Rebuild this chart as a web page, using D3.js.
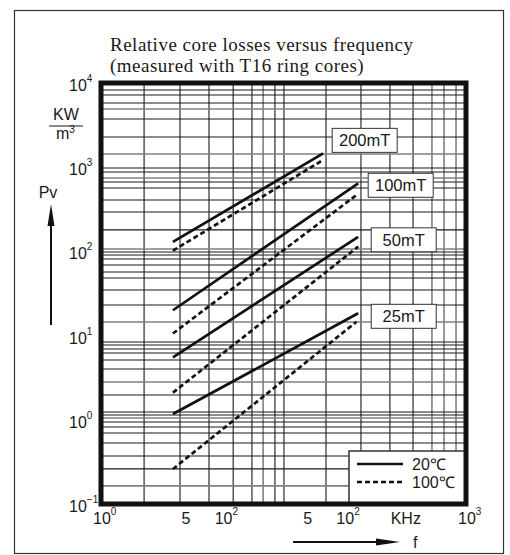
<!DOCTYPE html>
<html>
<head>
<meta charset="utf-8">
<script src="https://cdn.jsdelivr.net/npm/d3@7"></script>
<style>
  body { margin: 0; background: #fff; }
  text { font-family: "Liberation Sans", Arial, sans-serif; fill: #1a1a1a; }
</style>
</head>
<body>
<script>
// series (kHz, kW/m3)
var flux = ["200mT", "100mT", "50mT", "25mT"];
var fStart = [3.9, 3.9, 3.9, 3.9];
var fEnd20 = [67, 130, 130, 130];
var fEnd100 = [67, 126, 130, 126];
var pv20Start = [130, 20, 5.5, 1.17];
var pv20End = [1460, 644, 149, 18.4];
var pv100Start = [102, 10.6, 2.1, 0.26];
var pv100End = [1220, 467, 114, 14.6];

var xTickVals = [1, 5, 10, 50, 100, 1000];
var xTickBase = ["10", "5", "10", "5", "10", "10"];
var xTickExp = ["0", "", "2", "", "2", "3"];
var yTickVals = [0.1, 1, 10, 100, 1000, 10000];
var yTickExp = ["\u22121", "0", "1", "2", "3", "4"];
var legendText = ["20\u2103", "100\u2103"];

// grid lines as printed on the sheet (they are not evenly log-spaced)
var gridF = [2.26, 4.46, 7.72, 12.2, 17.4, 21.5, 26.9, 31.9, 70.7, 137, 237, 367, 525, 660, 828];
var gridFGrey = [21.5, 525, 660, 828];
var gridPv = [8260, 7200, 5780, 4910, 3740, 2280, 1435, 978, 877, 745, 667, 566, 408, 294, 180,
  107, 98.4, 90.6, 81.2, 68.9, 56.9, 48.3, 34.8, 23.1, 14.5, 8.39, 7.73, 6.93, 6.21, 5.13, 4.01,
  2.81, 1.97, 1.24, 1.14, 1.05, 0.942, 0.821, 0.697, 0.53, 0.372, 0.261, 0.164];
var gridPvGrey = [4910, 1435, 745, 107, 14.5, 2.81, 1.05, 0.164];

var W = 510, H = 555;
var pL = 101, pR = 466, pT = 83, pB = 504;

var svg = d3.select("body").append("svg")
  .attr("width", W).attr("height", H);

var x = d3.scaleLog().domain([1, 1000]).range([pL, pR]);
var y = d3.scaleLog().domain([0.1, 10000]).range([pB, pT]);

// outer frame
svg.append("rect")
  .attr("x", 14.5).attr("y", 10.5).attr("width", 489).attr("height", 543)
  .attr("fill", "none").attr("stroke", "#333").attr("stroke-width", 1.2);

// title
var title = svg.append("text")
  .style("font-family", "'Liberation Serif', 'Times New Roman', serif")
  .style("font-size", "19px")
  .style("letter-spacing", "0.5px");
title.append("tspan").attr("x", 110).attr("y", 51).text("Relative core losses versus frequency");
title.append("tspan").attr("x", 110).attr("y", 72).text("(measured with T16 ring cores)");

// grid
svg.append("g").selectAll("line").data(gridF).enter().append("line")
  .attr("x1", function(d) { return x(d); }).attr("x2", function(d) { return x(d); })
  .attr("y1", pT).attr("y2", pB)
  .attr("stroke", function(d) { return gridFGrey.indexOf(d) >= 0 ? "#808080" : "#1a1a1a"; })
  .attr("stroke-width", function(d) { return gridFGrey.indexOf(d) >= 0 ? 1.6 : 1.1; });

svg.append("g").selectAll("line").data(gridPv).enter().append("line")
  .attr("y1", function(d) { return y(d); }).attr("y2", function(d) { return y(d); })
  .attr("x1", pL).attr("x2", pR)
  .attr("stroke", function(d) { return gridPvGrey.indexOf(d) >= 0 ? "#808080" : "#1a1a1a"; })
  .attr("stroke-width", function(d) { return gridPvGrey.indexOf(d) >= 0 ? 1.6 : 1.1; });

// curves
var idx = d3.range(flux.length);
var line = d3.line().x(function(d) { return x(d[0]); }).y(function(d) { return y(d[1]); });

svg.append("g").selectAll("path.hot").data(idx).enter().append("path")
  .attr("d", function(i) { return line([[fStart[i], pv100Start[i]], [fEnd100[i], pv100End[i]]]); })
  .attr("fill", "none").attr("stroke", "#111").attr("stroke-width", 2.7)
  .attr("stroke-dasharray", "5,3");

svg.append("g").selectAll("path.cold").data(idx).enter().append("path")
  .attr("d", function(i) { return line([[fStart[i], pv20Start[i]], [fEnd20[i], pv20End[i]]]); })
  .attr("fill", "none").attr("stroke", "#111").attr("stroke-width", 2.7);

// flux labels
var labelDx = [9, 10, 13, 13], labelDy = [-13, 2, 3, 3];
var lab = svg.append("g").selectAll("g").data(idx).enter().append("g")
  .attr("transform", function(i) {
    return "translate(" + (x(fEnd20[i]) + labelDx[i]) + "," + (y(pv20End[i]) + labelDy[i]) + ")";
  });
lab.append("rect").attr("x", 0).attr("y", -12).attr("width", 65).attr("height", 24)
  .attr("fill", "#fff").attr("stroke", "#333").attr("stroke-width", 1);
lab.append("text").attr("x", 32.5).attr("y", 6).attr("text-anchor", "middle")
  .style("font-size", "16.5px").text(function(i) { return flux[i]; });

// legend
var lg = svg.append("g");
lg.append("rect").attr("x", 349).attr("y", 451).attr("width", pR - 349).attr("height", pB - 451)
  .attr("fill", "#fff").attr("stroke", "#333").attr("stroke-width", 1.5);
lg.selectAll("line").data([0, 1]).enter().append("line")
  .attr("x1", 357).attr("x2", 403)
  .attr("y1", function(d) { return 464 + d * 18; }).attr("y2", function(d) { return 464 + d * 18; })
  .attr("stroke", "#111").attr("stroke-width", 2.7)
  .attr("stroke-dasharray", function(d) { return d ? "5,3" : null; });
lg.selectAll("text").data([0, 1]).enter().append("text")
  .attr("x", 412).attr("y", function(d) { return 470 + d * 18; })
  .style("font-size", "16px").text(function(d) { return legendText[d]; });

// plot border
svg.append("rect")
  .attr("x", pL).attr("y", pT).attr("width", pR - pL).attr("height", pB - pT)
  .attr("fill", "none").attr("stroke", "#111").attr("stroke-width", 5);

// y tick labels
var yt = svg.append("g").selectAll("text").data(yTickVals).enter().append("text")
  .attr("x", 69).attr("y", function(d) { return y(d) + 8; })
  .style("font-size", "16px");
yt.append("tspan").text("10");
yt.append("tspan").attr("dy", -9).style("font-size", "10px")
  .text(function(d, i) { return yTickExp[i]; });

// x tick labels
var xt = svg.append("g").selectAll("text").data(xTickVals).enter().append("text")
  .attr("x", function(d, i) { return x(d) - (xTickExp[i] ? 8 : 4.5); })
  .attr("y", 524)
  .style("font-size", "16px");
xt.append("tspan").text(function(d, i) { return xTickBase[i]; });
xt.append("tspan").attr("dy", -9).style("font-size", "10px")
  .text(function(d, i) { return xTickExp[i]; });

svg.append("text").attr("x", x(320)).attr("y", 524).attr("text-anchor", "middle")
  .style("font-size", "16px").text("KHz");

// y unit
svg.append("text").attr("x", 66).attr("y", 120).attr("text-anchor", "middle")
  .style("font-size", "16px").text("KW");
svg.append("line").attr("x1", 49).attr("x2", 83).attr("y1", 126).attr("y2", 126)
  .attr("stroke", "#1a1a1a").attr("stroke-width", 1.2);
var m3 = svg.append("text").attr("x", 56).attr("y", 139).style("font-size", "16px");
m3.append("tspan").text("m");
m3.append("tspan").attr("dy", -6).style("font-size", "10px").text("3");

// axis names with arrows
svg.append("text").attr("x", 48).attr("y", 198).attr("text-anchor", "middle")
  .style("font-size", "16px").text("Pv");
svg.append("line").attr("x1", 51).attr("x2", 51).attr("y1", 325).attr("y2", 218)
  .attr("stroke", "#111").attr("stroke-width", 2);
svg.append("path").attr("d", "M47.5,226 L51,204 L54.5,226 Z").attr("fill", "#111");

svg.append("line").attr("x1", 293).attr("x2", 385).attr("y1", 542).attr("y2", 542)
  .attr("stroke", "#111").attr("stroke-width", 2);
svg.append("path").attr("d", "M376,538.5 L400,542 L376,545.5 Z").attr("fill", "#111");
svg.append("text").attr("x", 413).attr("y", 548).style("font-size", "16px").text("f");
</script>
</body>
</html>
